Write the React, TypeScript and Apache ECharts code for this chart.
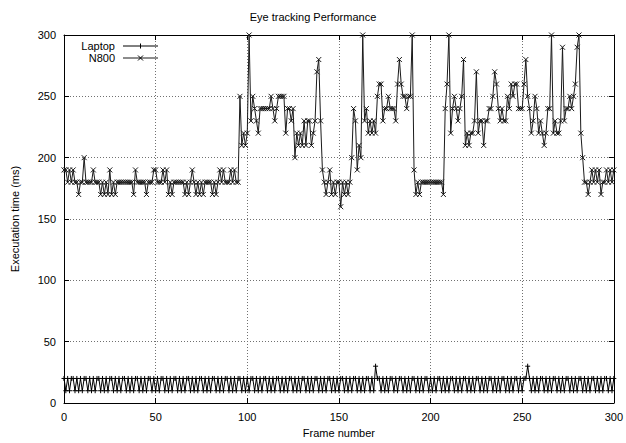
import React, { useEffect, useRef } from 'react';
import * as echarts from 'echarts';

const xTicks = [0, 50, 100, 150, 200, 250, 300];
const yTicks = [0, 50, 100, 150, 200, 250, 300];

const laptop = [
  20,10,20,10,20,20,10,20,10,20,
  10,20,20,10,20,10,20,10,20,20,
  10,20,10,20,10,20,20,10,20,10,
  20,10,20,20,10,20,10,20,10,20,
  20,10,20,10,20,10,20,20,10,20,
  10,20,10,20,20,10,20,10,20,10,
  20,20,10,20,10,20,10,20,20,10,
  20,10,20,10,20,20,10,20,10,20,
  10,20,20,10,20,10,20,10,20,20,
  10,20,10,20,10,20,20,10,20,10,
  20,10,20,20,10,20,10,20,10,20,
  20,10,20,10,20,10,20,20,10,20,
  10,20,10,20,20,10,20,10,20,10,
  20,20,10,20,10,20,10,20,20,10,
  20,10,20,10,20,20,10,20,10,20,
  10,20,20,10,20,10,20,10,20,20,
  10,20,10,20,10,20,20,10,20,10,
  30,20,20,10,20,10,20,10,20,20,
  10,20,10,20,20,10,20,10,20,10,
  20,20,10,20,10,20,10,20,20,10,
  20,10,20,10,20,20,10,20,10,20,
  10,20,20,10,20,10,20,10,20,20,
  10,20,10,20,10,20,20,10,20,10,
  20,10,20,20,10,20,10,20,10,20,
  20,10,20,10,20,10,20,20,10,20,
  10,20,20,30,20,10,20,10,20,10,
  20,20,10,20,10,20,10,20,20,10,
  20,10,20,10,20,20,10,20,10,20,
  10,20,20,10,20,10,20,10,20,20,
  10,20,10,20,10,20,20,10,20,10,
  20,
];

const n800 = [
  190,190,180,190,180,190,180,180,170,180,
  180,200,180,180,180,180,190,180,180,180,
  170,180,170,180,170,190,170,180,170,180,
  180,180,180,180,180,180,180,180,170,190,
  180,180,180,180,180,170,180,180,180,190,
  190,180,180,180,190,180,190,170,180,170,
  180,180,180,180,180,180,170,180,170,180,
  190,180,170,180,170,180,170,180,180,180,
  180,170,180,170,180,190,180,190,180,180,
  180,190,180,190,180,180,250,210,220,210,
  220,300,230,250,240,230,220,240,240,240,
  240,240,240,250,240,230,240,250,250,250,
  250,220,240,240,230,240,200,220,210,220,
  210,230,210,230,230,210,220,230,270,280,
  230,190,180,170,180,190,170,180,170,180,
  180,160,180,170,180,170,180,200,240,230,
  190,210,200,300,230,240,220,230,220,230,
  220,250,260,260,230,240,240,250,240,240,
  240,230,260,280,260,250,250,240,250,250,
  300,190,170,180,170,180,180,180,180,180,
  180,180,180,180,180,180,180,170,240,260,
  300,220,240,250,240,230,240,250,280,210,
  220,210,220,220,230,270,220,230,230,210,
  230,230,240,240,250,270,260,240,230,240,
  230,230,250,240,260,250,260,260,240,240,
  240,260,280,250,240,220,230,250,240,220,
  230,220,210,220,240,240,300,220,230,220,
  220,230,290,230,240,240,250,240,250,260,
  290,300,220,200,180,180,170,180,190,180,
  190,180,190,170,180,180,190,180,190,180,190,
];

const FONT = '"Liberation Sans", Arial, Helvetica, sans-serif';

export default function App() {
  const ref = useRef<HTMLDivElement>(null);
  useEffect(() => {
    const chart = echarts.init(ref.current!, null, { renderer: 'svg' });
    const toPairs = (arr: number[]) => arr.map((v, i) => [i, v]);
    const X = 'path://M0,0L10,10M10,0L0,10';
    const PLUS = 'path://M5,0L5,10M0,5L10,5';
    const axisCommon = {
      type: 'value',
      min: 0,
      max: 300,
      interval: 50,
      axisLine: { show: true, onZero: false, lineStyle: { color: '#000', width: 1 } },
      axisTick: { show: true, inside: true, length: 5, lineStyle: { color: '#000' } },
    };
    chart.setOption({
      animation: false,
      backgroundColor: '#fff',
      grid: { left: 64, right: 10, top: 35, bottom: 38, containLabel: false },
      xAxis: [
        {
          ...axisCommon,
          position: 'bottom',
          name: 'Frame number',
          nameLocation: 'middle',
          nameGap: 24,
          nameTextStyle: { color: '#000', fontSize: 11, fontFamily: FONT },
          axisLabel: {
            color: '#000', fontSize: 11, fontFamily: FONT, margin: 8,
            formatter: (v: number) => (xTicks.includes(v) ? String(v) : ''),
          },
          splitLine: { show: true, lineStyle: { type: [1, 2], color: '#707070', width: 1 } },
        },
        {
          ...axisCommon,
          position: 'top',
          axisLabel: { show: false },
          splitLine: { show: false },
        },
      ],
      yAxis: [
        {
          ...axisCommon,
          position: 'left',
          name: 'Executation time (ms)',
          nameLocation: 'middle',
          nameGap: 44,
          nameTextStyle: { color: '#000', fontSize: 11, fontFamily: FONT },
          axisLabel: {
            color: '#000', fontSize: 11, fontFamily: FONT, margin: 8,
            formatter: (v: number) => (yTicks.includes(v) ? String(v) : ''),
          },
          splitLine: { show: true, lineStyle: { type: [1, 2], color: '#707070', width: 1 } },
        },
        {
          ...axisCommon,
          position: 'right',
          axisLabel: { show: false },
          splitLine: { show: false },
        },
      ],
      series: [
        {
          name: 'Laptop',
          type: 'line',
          data: toPairs(laptop),
          symbol: PLUS,
          symbolSize: 5,
          showAllSymbol: true,
          lineStyle: { color: '#000', width: 1 },
          itemStyle: { color: 'none', borderColor: '#000', borderWidth: 1 },
          z: 3,
        },
        {
          name: 'N800',
          type: 'line',
          data: toPairs(n800),
          symbol: X,
          symbolSize: 5,
          showAllSymbol: true,
          lineStyle: { color: '#1a1a1a', width: 1 },
          itemStyle: { color: 'none', borderColor: '#1a1a1a', borderWidth: 1 },
          z: 2,
        },
      ],
      graphic: [
        {
          type: 'text', left: 'center', top: 11,
          style: { text: 'Eye tracking Performance', fill: '#000', font: `11px ${FONT}` },
        },
        {
          type: 'text', x: 115, y: 46,
          style: { text: 'Laptop', fill: '#000', font: `11px ${FONT}`, align: 'right', verticalAlign: 'middle' },
        },
        {
          type: 'text', x: 115, y: 58,
          style: { text: 'N800', fill: '#000', font: `11px ${FONT}`, align: 'right', verticalAlign: 'middle' },
        },
        { type: 'line', shape: { x1: 123, y1: 46, x2: 158, y2: 46 }, style: { stroke: '#000', lineWidth: 1 } },
        { type: 'line', shape: { x1: 140.5, y1: 43.5, x2: 140.5, y2: 48.5 }, style: { stroke: '#000', lineWidth: 1 } },
        { type: 'line', shape: { x1: 123, y1: 58, x2: 158, y2: 58 }, style: { stroke: '#1a1a1a', lineWidth: 1 } },
        { type: 'line', shape: { x1: 138, y1: 55.5, x2: 143, y2: 60.5 }, style: { stroke: '#000', lineWidth: 1 } },
        { type: 'line', shape: { x1: 143, y1: 55.5, x2: 138, y2: 60.5 }, style: { stroke: '#000', lineWidth: 1 } },
      ],
    });
    return () => chart.dispose();
  }, []);
  return <div ref={ref} style={{ width: 626, height: 443, position: 'absolute', left: 0, top: 0 }} />;
}
